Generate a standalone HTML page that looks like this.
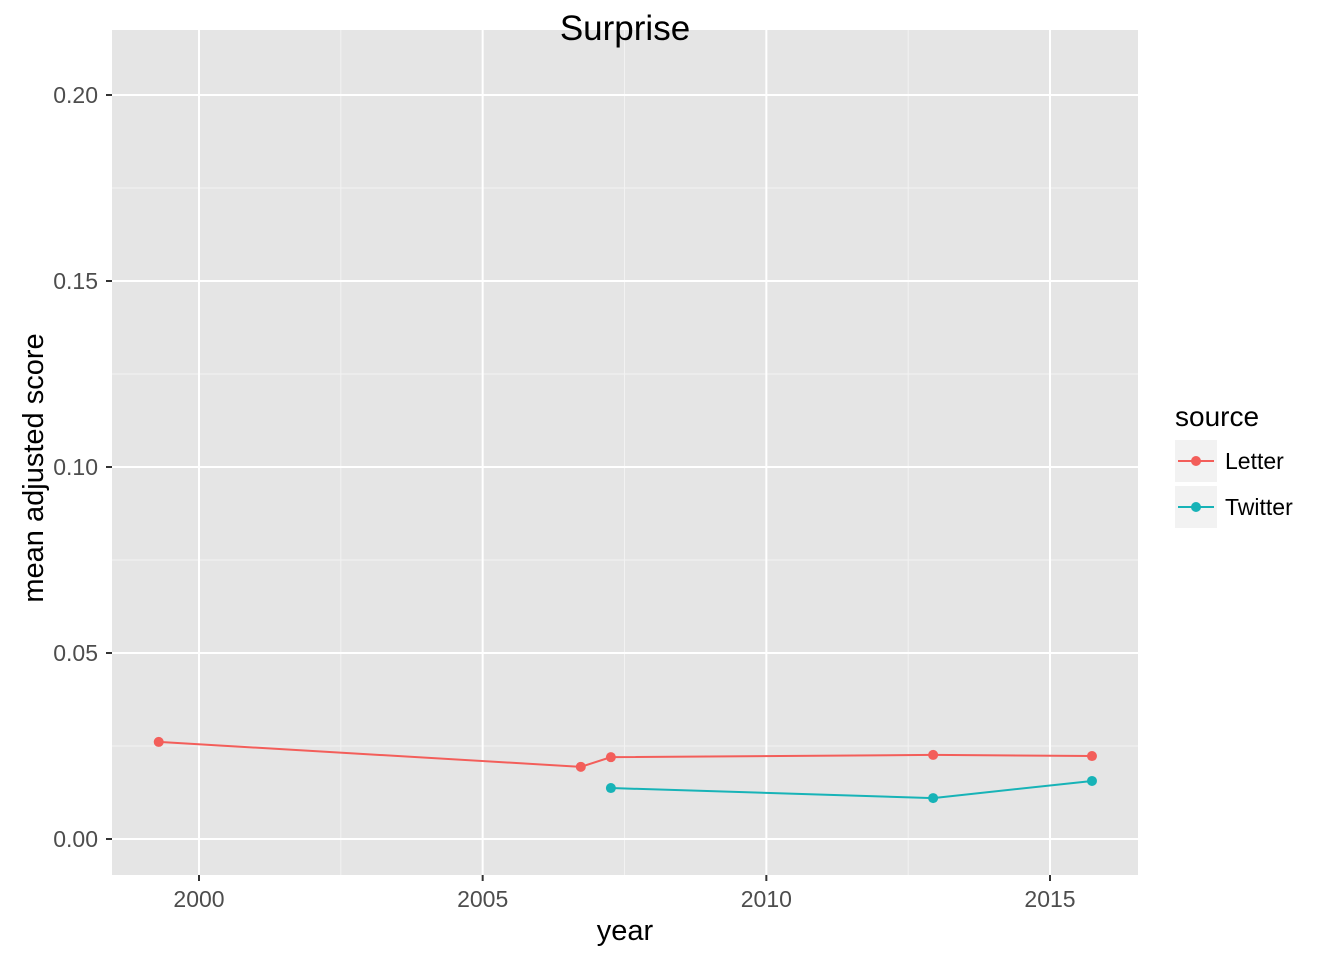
<!DOCTYPE html>
<html><head><meta charset="utf-8"><style>
body{margin:0;background:#fff;}
svg{display:block;font-family:"Liberation Sans",sans-serif;}
</style></head><body>
<svg id="chart" width="1344" height="960"></svg>
<script>
const xTicks=[2000,2005,2010,2015];
const yTicks=[0.00,0.05,0.10,0.15,0.20];
const yTickLabels=["0.00","0.05","0.10","0.15","0.20"];
const letterYears=[1999.29,2006.73,2007.26,2012.94,2015.74];
const letterValues=[0.0261,0.0194,0.0220,0.0226,0.0223];
const twitterYears=[2007.26,2012.94,2015.74];
const twitterValues=[0.0137,0.0110,0.0156];

const NS="http://www.w3.org/2000/svg";
const svg=document.getElementById('chart');
const L=112,R=1138,T=30,B=875;
const X=v=>199+(v-2000)*(1050-199)/15;
const Y=v=>839-v*(839-95)/0.2;
function el(tag,attrs,parent){const e=document.createElementNS(NS,tag);for(const k in attrs)e.setAttribute(k,attrs[k]);(parent||svg).appendChild(e);return e;}

const panel=el('rect',{x:L,y:T,width:R-L,height:B-T,fill:'#e5e5e5'});


for(let i=0;i<xTicks.length-1;i++){const m=X((xTicks[i]+xTicks[i+1])/2);el('line',{x1:m,x2:m,y1:T,y2:B,stroke:'#f2f2f2','stroke-width':1});}
for(let i=0;i<yTicks.length-1;i++){const m=Y((yTicks[i]+yTicks[i+1])/2);el('line',{x1:L,x2:R,y1:m,y2:m,stroke:'#f2f2f2','stroke-width':1});}
xTicks.forEach(t=>{const x=X(t);el('line',{x1:x,x2:x,y1:T,y2:B,stroke:'#fff','stroke-width':2});
el('line',{x1:x,x2:x,y1:B,y2:B+6,stroke:'#333','stroke-width':2});
const tx=el('text',{x:x,y:B+32,'text-anchor':'middle','font-size':23,fill:'#4d4d4d'});tx.textContent=t;

});
yTicks.forEach((t,i)=>{const y=Y(t);el('line',{x1:L,x2:R,y1:y,y2:y,stroke:'#fff','stroke-width':2});
el('line',{x1:L-6,x2:L,y1:y,y2:y,stroke:'#333','stroke-width':2});
const tx=el('text',{x:L-14,y:y+8,'text-anchor':'end','font-size':23,fill:'#4d4d4d'});tx.textContent=yTickLabels[i];

});
function series(xs,ys,color,name){
  const g=el('g',{});
  
  
  el('polyline',{points:xs.map((x,i)=>X(x)+','+Y(ys[i])).join(' '),fill:'none',stroke:color,'stroke-width':2},g);
  xs.forEach((x,i)=>{const c=el('circle',{cx:X(x),cy:Y(ys[i]),r:5,fill:color},g);
  
  });
}
series(letterYears,letterValues,'#f35e5a','letter');
series(twitterYears,twitterValues,'#17b3b7','twitter');
let t=el('text',{x:625,y:40,'text-anchor':'middle','font-size':35,fill:'#000'});t.textContent='Surprise';


t=el('text',{x:625,y:940,'text-anchor':'middle','font-size':29,fill:'#000'});t.textContent='year';


t=el('text',{x:0,y:0,'text-anchor':'middle','font-size':29,fill:'#000',transform:'translate(43,468) rotate(-90)'});t.textContent='mean adjusted score';


t=el('text',{x:1175,y:426,'font-size':28,fill:'#000'});t.textContent='source';


[['Letter','#f35e5a',440],['Twitter','#17b3b7',486]].forEach(([lab,c,y])=>{
  const g=el('g',{});
  
  
  el('rect',{x:1175,y:y,width:42,height:42,fill:'#f2f2f2'},g);
  el('line',{x1:1178,x2:1214,y1:y+21,y2:y+21,stroke:c,'stroke-width':2},g);
  el('circle',{cx:1196,cy:y+21,r:5,fill:c},g);
  const tx=el('text',{x:1225,y:y+29,'font-size':23,fill:'#000'},g);tx.textContent=lab;
});
</script>
</body></html>
